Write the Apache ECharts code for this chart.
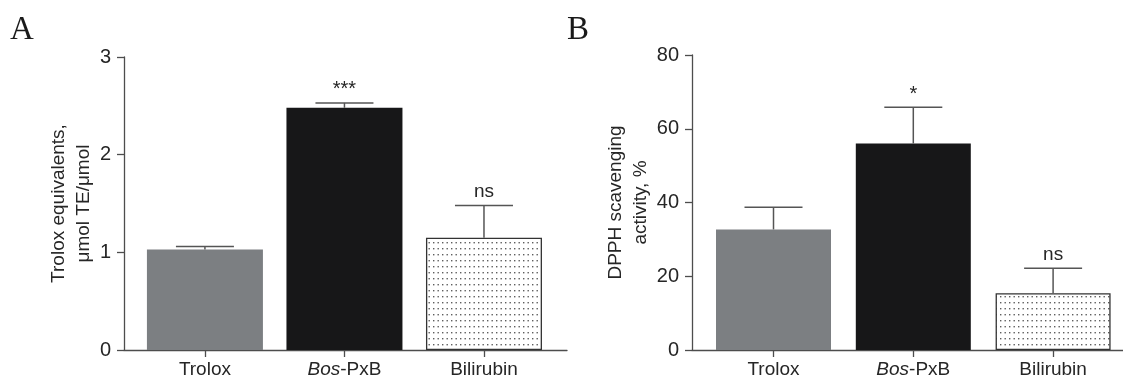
<!DOCTYPE html>
<html>
<head>
<meta charset="utf-8">
<script src="https://cdn.jsdelivr.net/npm/echarts@6/dist/echarts.min.js"></script>
<style>
  html, body { margin: 0; padding: 0; background: #fff; }
  #chart { width: 1123px; height: 381px; }
</style>
</head>
<body>
<div id="chart"></div>
<script>
const categories = ['Trolox', 'Bos-PxB', 'Bilirubin'];
const catIndex = [0, 1, 2];

// panel A: Trolox equivalents
const teMean = [1.03, 2.48, 1.15];
const teUpper = [1.06, 2.53, 1.48];
const teMarks = ['', '***', 'ns'];

// panel B: DPPH scavenging
const dpphMean = [32.7, 56.0, 15.4];
const dpphUpper = [38.7, 65.8, 22.2];
const dpphMarks = ['', '*', 'ns'];

const FONT = '"Liberation Sans", Arial, Helvetica, sans-serif';
const TXT = '#262626';
const AXIS = '#4d4d4d';

// dotted fill for the bilirubin bar
const dots = document.createElement('canvas');
dots.width = 9;
dots.height = 6;
const dctx = dots.getContext('2d');
dctx.fillStyle = '#fff';
dctx.fillRect(0, 0, 9, 6);
dctx.fillStyle = '#5e5e5e';
dctx.fillRect(1, 2, 1.4, 1.4);
dctx.fillRect(5.5, 2, 1.4, 1.4);

const barStyles = [
  { color: '#7c7f82', borderColor: '#7c7f82', borderWidth: 0 },
  { color: '#171718', borderColor: '#171718', borderWidth: 0 },
  { color: { image: dots, repeat: 'repeat' }, borderColor: '#333', borderWidth: 1.3 },
];

const barData = (means) =>
  means.map((v, i) => ({ value: [catIndex[i], v], itemStyle: barStyles[i] }));

const errData = (means, uppers) =>
  means.map((v, i) => [catIndex[i], v, uppers[i]]);

const errRender = (marks) => (params, api) => {
  const x = api.value(0);
  const lo = api.coord([x, api.value(1)]);
  const hi = api.coord([x, api.value(2)]);
  const half = 29;
  const st = { stroke: '#555', lineWidth: 1.5 };
  const mark = marks[params.dataIndex];
  const star = mark.indexOf('*') >= 0;
  return {
    type: 'group',
    children: [
      { type: 'line', shape: { x1: lo[0], y1: lo[1], x2: hi[0], y2: hi[1] }, style: st },
      { type: 'line', shape: { x1: hi[0] - half, y1: hi[1], x2: hi[0] + half, y2: hi[1] }, style: st },
      {
        type: 'text',
        x: hi[0],
        y: hi[1] - (star ? 3 : 4),
        style: {
          text: mark,
          align: 'center',
          verticalAlign: 'bottom',
          font: (star ? '20px ' : '19px ') + FONT,
          fill: TXT,
        },
      },
    ],
  };
};

const xAxisBase = (gridIndex, min, max) => ({
  type: 'value',
  gridIndex,
  min,
  max,
  axisLine: { show: true, onZero: false, lineStyle: { color: AXIS, width: 1.3 } },
  axisTick: { show: true, customValues: catIndex, length: 7, lineStyle: { color: AXIS, width: 1.3 } },
  splitLine: { show: false },
  axisLabel: {
    customValues: catIndex,
    margin: 10,
    fontFamily: FONT,
    fontSize: 19,
    color: TXT,
    formatter: (v) => {
      const name = categories[Math.round(v)];
      return name === 'Bos-PxB' ? '{i|Bos}-PxB' : name;
    },
    rich: { i: { fontStyle: 'italic', fontFamily: FONT, fontSize: 19, color: TXT } },
  },
});

const yAxisBase = (gridIndex, max, interval, name, nameGap) => ({
  type: 'value',
  gridIndex,
  min: 0,
  max,
  interval,
  name,
  nameLocation: 'middle',
  nameGap,
  nameTextStyle: { fontFamily: FONT, fontSize: 19, color: TXT, lineHeight: 25 },
  axisLine: { show: true, onZero: false, lineStyle: { color: AXIS, width: 1.3 } },
  axisTick: { show: true, length: 7, lineStyle: { color: AXIS, width: 1.3 } },
  splitLine: { show: false },
  axisLabel: { margin: 13, fontFamily: FONT, fontSize: 20, color: TXT },
});

const chart = echarts.init(document.getElementById('chart'), null, { renderer: 'canvas' });

chart.setOption({
  animation: false,
  backgroundColor: '#fff',
  grid: [
    { left: 124, top: 57, width: 443, bottom: 31 },
    { left: 692, top: 55, width: 431, bottom: 31 },
  ],
  xAxis: [xAxisBase(0, -0.58, 2.595), xAxisBase(1, -0.583, 2.5)],
  yAxis: [
    yAxisBase(0, 3, 1, 'Trolox equivalents,\nμmol TE/μmol', 27),
    yAxisBase(1, 80, 20, 'DPPH scavenging\nactivity, %', 38),
  ],
  graphic: [
    { type: 'text', left: 10, top: 14, style: { text: 'A', font: '33px "Liberation Serif", "Times New Roman", serif', fill: '#1a1a1a' } },
    { type: 'text', left: 567, top: 14, style: { text: 'B', font: '33px "Liberation Serif", "Times New Roman", serif', fill: '#1a1a1a' } },
  ],
  series: [
    { type: 'bar', xAxisIndex: 0, yAxisIndex: 0, barWidth: 116, data: barData(teMean) },
    { type: 'custom', xAxisIndex: 0, yAxisIndex: 0, renderItem: errRender(teMarks), data: errData(teMean, teUpper), z: 5 },
    { type: 'bar', xAxisIndex: 1, yAxisIndex: 1, barWidth: 115, data: barData(dpphMean) },
    { type: 'custom', xAxisIndex: 1, yAxisIndex: 1, renderItem: errRender(dpphMarks), data: errData(dpphMean, dpphUpper), z: 5 },
  ],
});
</script>
</body>
</html>
